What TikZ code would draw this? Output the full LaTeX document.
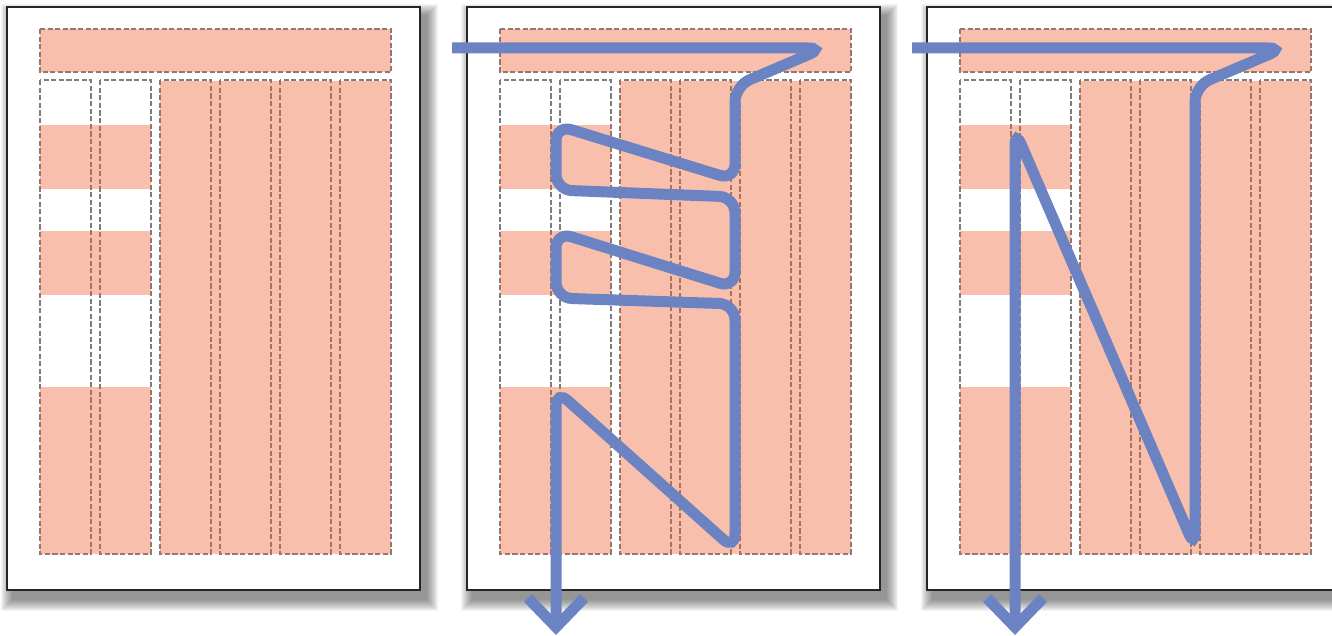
\documentclass[tikz,border=0pt]{standalone}
\usepackage{tikz}
\usetikzlibrary{arrows.meta}

\definecolor{salmon}{RGB}{238,98,48}
\definecolor{routeblue}{RGB}{107,131,194}
\definecolor{guidegray}{RGB}{125,125,125}

\begin{document}
\begin{tikzpicture}[x=0.5pt, y=-0.5pt,
>={Straight Barb[length=14.5pt, width=28pt, line cap=butt, line join=miter]},
page/.style={draw=black!85, line width=0.8pt, fill=white},
column/.style={draw=guidegray, line width=1.4pt, dash pattern=on 2.6pt off 1.2pt},
band/.style={fill=salmon, fill opacity=0.4},
flow/.style={draw=routeblue, line width=5.5pt, rounded corners=8pt, ->},
]
\useasboundingbox (0,0) rectangle (1332,636);
\clip (0,0) rectangle (1332,636);

%Pages
\foreach \dx in {0,460,920} {
  \begin{scope}[shift={(\dx,0)}]
    \foreach \i in {1,...,12}
      \fill[black, opacity=0.045] ({13-\i},{16-\i}) rectangle ({426+\i},{599+\i});
    \draw[page] (7,7) rectangle (420,590);
    \draw[column] (40,29) rectangle (391,72);
    \foreach \x in {40,100,...,340}
      \draw[column] (\x,80) rectangle (\x+51,554);
    \fill[band] (40,29) rectangle (391,72);
    \fill[band] (160,81) rectangle (391,554);
    \foreach \ya/\yb in {125/189,231/295,387/554}
      \fill[band] (40,\ya) rectangle (151,\yb);
  \end{scope}
}

%Routes
\coordinate (in2)  at (452,48);
\coordinate (out2) at (556,635);
\coordinate (in3)  at (912,48);
\coordinate (out3) at (1015,635);

\draw[flow] (in2) -- (824,48) -- (735,86) -- (735,180) -- (556,125) -- (556,190)
  -- (735,197) -- (735,288) -- (556,232) -- (556,298) -- (735,304) -- (735,550)
  -- (556,390) -- (out2);
\draw[flow] (in3) -- (1284,48) -- (1195,86) -- (1195,548) -- (1015,130) -- (out3);
\end{tikzpicture}
\end{document}
